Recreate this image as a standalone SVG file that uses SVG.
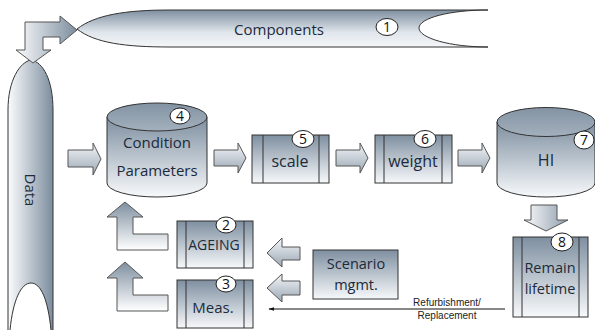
<svg xmlns="http://www.w3.org/2000/svg" width="595" height="330" viewBox="0 0 595 330">
<defs>
<linearGradient id="gv" x1="0" y1="0" x2="0" y2="1"><stop offset="0" stop-color="#7e8fa0"/><stop offset="1" stop-color="#f7f9fb"/></linearGradient>
<linearGradient id="gtube" x1="0" y1="0" x2="0" y2="1"><stop offset="0" stop-color="#7f8fa0"/><stop offset="0.6" stop-color="#dfe5eb"/><stop offset="1" stop-color="#f5f7f9"/></linearGradient>
<linearGradient id="gh" x1="0" y1="0" x2="1" y2="0"><stop offset="0" stop-color="#fbfcfd"/><stop offset="1" stop-color="#7c8d9e"/></linearGradient>
<linearGradient id="gtop" x1="0" y1="0" x2="0" y2="1"><stop offset="0" stop-color="#8393a3"/><stop offset="1" stop-color="#a3b0bd"/></linearGradient>
<linearGradient id="garr" x1="0" y1="0" x2="0" y2="1"><stop offset="0" stop-color="#f4f6f8"/><stop offset="1" stop-color="#9aa7b4"/></linearGradient>
<linearGradient id="garrh" x1="0" y1="0" x2="1" y2="0"><stop offset="0" stop-color="#fbfcfd"/><stop offset="1" stop-color="#8e9cab"/></linearGradient>
<linearGradient id="gup" x1="0" y1="0" x2="0" y2="1"><stop offset="0" stop-color="#7e8fa0"/><stop offset="1" stop-color="#ffffff"/></linearGradient>
<marker id="ah" viewBox="0 0 10 10" refX="9" refY="5" markerWidth="6" markerHeight="6" orient="auto"><path d="M0,2 L10,5 L0,8 Z" fill="#111"/></marker>
</defs>
<style>
.t{font-family:"Open Sans","Noto Sans",sans-serif;fill:#1c2a3a;text-anchor:middle;}
.s{stroke:#333;stroke-width:1;}
.box{fill:url(#gv);stroke:#333;stroke-width:1;}
.ln{stroke:#333;stroke-width:1;}
.num{fill:#fff;stroke:#222;stroke-width:1;}
.nt{font-family:"Open Sans","Noto Sans",sans-serif;font-size:14px;fill:#111;text-anchor:middle;}
.arr{fill:url(#garr);stroke:#555;stroke-width:1;}
.sm{font-family:"Liberation Sans",Arial,sans-serif;font-size:10px;fill:#222;text-anchor:middle;}
</style>

<g id="components">
<path d="M77,29 C95,15 125,10 170,10 L488,10 L488,47 L170,47 C125,47 95,43 77,29 Z" fill="url(#gtube)" stroke="none"/>
<path d="M488,10 C450,10 419,18 419,28 C419,38 450,47 488,47 Z" fill="#fff"/>
<path d="M488,10 L170,10 C125,10 95,15 77,29 C95,43 125,47 170,47 L488,47" fill="none" class="s"/>
<path d="M488,10 C450,10 419,18 419,28 C419,38 450,47 488,47" fill="none" class="s"/>
<text class="t" x="279" y="35" font-size="15">Components</text>
<ellipse class="num" cx="387" cy="27" rx="11" ry="8.5"/>
<text class="nt" x="387" y="32">1</text>
</g>

<g id="data">
<path d="M8,330 L8,110 C8,80 20,62 31,60 C43,62 53,80 53,110 L53,330 L51,330 C48,300 41,283 31,283 C21,283 13,300 10,330 Z" fill="url(#gh)"/>
<path d="M8,330 L8,110 C8,80 20,62 31,60 C43,62 53,80 53,110 L53,330 M51,330 C48,300 41,283 31,283 C21,283 13,300 10,330" fill="none" class="s"/>
<text class="t" x="30" y="190" font-size="15" transform="rotate(90 30 190)" dy="5">Data</text>
</g>

<g id="condition">
<path d="M107,117 L107,183 A50,14 0 0 0 207,183 L207,117 Z" fill="url(#gv)" class="s"/>
<ellipse cx="157" cy="117" rx="50" ry="14" fill="url(#gtop)" class="s"/>
<ellipse class="num" cx="180" cy="116" rx="10" ry="8"/>
<text class="nt" x="180" y="121">4</text>
<text class="t" x="157" y="148" font-size="15">Condition</text>
<text class="t" x="157" y="176" font-size="15">Parameters</text>
</g>

<g id="scale">
<rect class="box" x="252" y="135" width="77" height="48"/>
<line class="ln" x1="263" y1="135" x2="263" y2="183"/>
<line class="ln" x1="319" y1="135" x2="319" y2="183"/>
<ellipse class="num" cx="303" cy="139" rx="11" ry="8.5"/>
<text class="nt" x="303" y="144">5</text>
<text class="t" x="290" y="167" font-size="16">scale</text>
</g>

<g id="weight">
<rect class="box" x="375" y="135" width="77" height="48"/>
<line class="ln" x1="384" y1="135" x2="384" y2="183"/>
<line class="ln" x1="442" y1="135" x2="442" y2="183"/>
<ellipse class="num" cx="425" cy="139" rx="11" ry="8.5"/>
<text class="nt" x="425" y="144">6</text>
<text class="t" x="413" y="167" font-size="16">weight</text>
</g>

<g id="hi">
<path d="M497,122 L497,183 A49,14 0 0 0 595,183 L595,122 Z" fill="url(#gv)" class="s"/>
<ellipse cx="546" cy="122" rx="49" ry="14.5" fill="url(#gtop)" class="s"/>
<ellipse class="num" cx="584" cy="140" rx="10" ry="9"/>
<text class="nt" x="584" y="145">7</text>
<text class="t" x="546" y="166" font-size="16">HI</text>
</g>

<g id="remain">
<rect class="box" x="513" y="237" width="75" height="80"/>
<line class="ln" x1="522" y1="237" x2="522" y2="317"/>
<line class="ln" x1="579" y1="237" x2="579" y2="317"/>
<ellipse class="num" cx="562" cy="242" rx="11" ry="9"/>
<text class="nt" x="562" y="247">8</text>
<text class="t" x="550" y="273" font-size="14.5">Remain</text>
<text class="t" x="550" y="294" font-size="14.5">lifetime</text>
</g>

<g id="scenario">
<rect class="box" x="313" y="250" width="85" height="49"/>
<text class="t" x="356" y="269" font-size="14.5">Scenario</text>
<text class="t" x="356" y="290" font-size="14.5">mgmt.</text>
</g>

<g id="ageing">
<rect class="box" x="177" y="221" width="76" height="47"/>
<line class="ln" x1="186" y1="221" x2="186" y2="268"/>
<line class="ln" x1="244" y1="221" x2="244" y2="268"/>
<ellipse class="num" cx="226" cy="225" rx="10" ry="8"/>
<text class="nt" x="226" y="230">2</text>
<text class="t" x="214" y="250" font-size="14">AGEING</text>
</g>

<g id="meas">
<rect class="box" x="177" y="280" width="76" height="48"/>
<line class="ln" x1="186" y1="280" x2="186" y2="328"/>
<line class="ln" x1="244" y1="280" x2="244" y2="328"/>
<ellipse class="num" cx="226" cy="284" rx="10" ry="8"/>
<text class="nt" x="226" y="289">3</text>
<text class="t" x="213" y="313" font-size="15">Meas.</text>
</g>

<g id="connectors">
<path d="M25,50 L16,50 L33,63 L51,50 L43,50 L43,37 L60,37 L60,44 L77,30 L60,16 L60,22 L25,22 Z" fill="url(#gh)" stroke="#555" stroke-width="1"/>
<path class="arr" d="M68,150 L93,150 L93,143 L101,159 L93,175 L93,167 L68,167 Z"/>
<path class="arr" d="M214,150 L238,150 L238,143 L246,158 L238,173 L238,166 L214,166 Z"/>
<path class="arr" d="M336,150 L360,150 L360,143 L368,158 L360,173 L360,166 L336,166 Z"/>
<path class="arr" d="M458,150 L482,150 L482,143 L490,158 L482,173 L482,166 L458,166 Z"/>
<path d="M531,205 L557,205 L557,220 L568,220 L546,231 L524,220 L531,220 Z" fill="url(#garrh)" stroke="#555" stroke-width="1"/>
<path class="arr" d="M300,247 L282,247 L282,238 L267,253 L282,267 L282,260 L300,260 Z"/>
<path class="arr" d="M300,281 L282,281 L282,274 L267,288 L282,302 L282,295 L300,295 Z"/>
<path d="M117,250 L117,217 L107,217 L125,202 L143,217 L133,217 L133,234 L168,234 L168,250 Z" fill="url(#gup)" stroke="#555" stroke-width="1"/>
<path d="M117,311 L117,278 L107,278 L125,262 L143,278 L133,278 L133,295 L168,295 L168,311 Z" fill="url(#gup)" stroke="#555" stroke-width="1"/>
<line x1="505" y1="309" x2="269" y2="309" stroke="#111" stroke-width="1" marker-end="url(#ah)"/>
<text class="sm" x="447" y="306">Refurbishment/</text>
<text class="sm" x="447" y="319">Replacement</text>
</g>
</svg>
